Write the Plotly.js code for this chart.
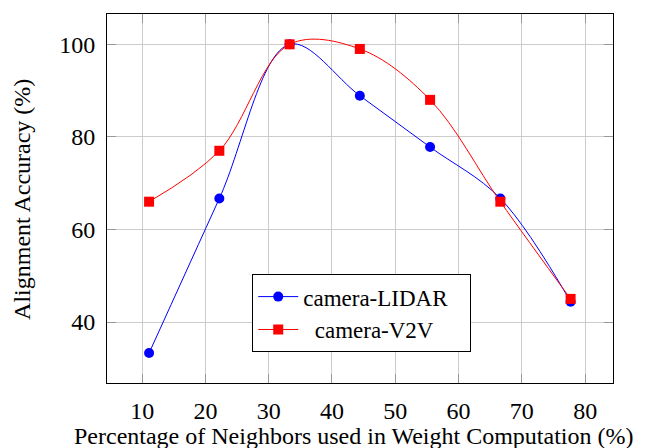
<!DOCTYPE html>
<html>
<head>
<meta charset="utf-8">
<script src="https://cdn.plot.ly/plotly-3.0.1.min.js"></script>
<style>html,body{margin:0;padding:0;background:#fff;}#chart{width:650px;height:448px;}</style>
</head>
<body>
<div id="chart"></div>
<script>
const neighborsPct = [11.1, 22.2, 33.3, 44.4, 55.5, 66.6, 77.7];
const lidarAcc = [33.3, 66.7, 100, 88.9, 77.8, 66.7, 44.4];
const v2vAcc = [66, 77, 100, 99, 88, 66, 45];
const xTicks = [10, 20, 30, 40, 50, 60, 70, 80];
const yTicks = [40, 60, 80, 100];
const seriesNames = ['camera-LIDAR', 'camera-V2V'];
const xTitle = 'Percentage of Neighbors used in Weight Computation (%)';
const yTitle = 'Alignment Accuracy (%)';

const FONT = 'Liberation Serif';
const NB = '\u00a0';

const traces = [
  {
    x: neighborsPct, y: lidarAcc, name: seriesNames[0] + NB + NB + NB, type: 'scatter', mode: 'lines+markers',
    line: {color: '#0000ff', width: 1, shape: 'spline', smoothing: 1},
    marker: {color: '#0000ff', symbol: 'circle', size: 10}
  },
  {
    x: neighborsPct, y: v2vAcc, name: NB + NB + seriesNames[1], type: 'scatter', mode: 'lines+markers',
    line: {color: '#ff0000', width: 1, shape: 'spline', smoothing: 1},
    marker: {color: '#ff0000', symbol: 'square', size: 10}
  }
];

const axisCommon = {
  showline: true, mirror: 'ticks', linecolor: '#000', linewidth: 1,
  showgrid: true, gridcolor: '#cccccc', gridwidth: 1,
  ticks: 'inside', ticklen: 9, tickcolor: '#999999', tickwidth: 1,
  zeroline: false,
  tickfont: {family: FONT, size: 24, color: '#000'}
};

const layout = {
  width: 650, height: 448,
  margin: {l: 107, r: 37, t: 14, b: 65},
  paper_bgcolor: '#fff', plot_bgcolor: '#fff',
  font: {family: FONT, size: 24, color: '#000'},
  xaxis: Object.assign({}, axisCommon, {
    range: [4.45, 84.4], tickvals: xTicks, ticklabelstandoff: 6
  }),
  yaxis: Object.assign({}, axisCommon, {
    range: [26.83, 106.55], tickvals: yTicks, ticklabelstandoff: 6
  }),
  annotations: [
    {xref: 'paper', yref: 'paper', x: 0.4885, y: -0.143, xanchor: 'center', yanchor: 'middle',
     text: xTitle, showarrow: false, font: {family: FONT, size: 24, color: '#000'}},
    {xref: 'paper', yref: 'paper', x: -0.1666, y: 0.498, xanchor: 'center', yanchor: 'middle',
     textangle: -90, text: yTitle, showarrow: false, font: {family: FONT, size: 24, color: '#000'}}
  ],
  showlegend: true,
  legend: {
    x: 0.287, y: 0.295, xanchor: 'left', yanchor: 'top',
    bgcolor: '#fff', bordercolor: '#000', borderwidth: 1,
    font: {family: FONT, size: 23, color: '#000'},
    itemwidth: 40
  }
};

Plotly.newPlot('chart', traces, layout, {staticPlot: true, displayModeBar: false});
</script>
</body>
</html>
